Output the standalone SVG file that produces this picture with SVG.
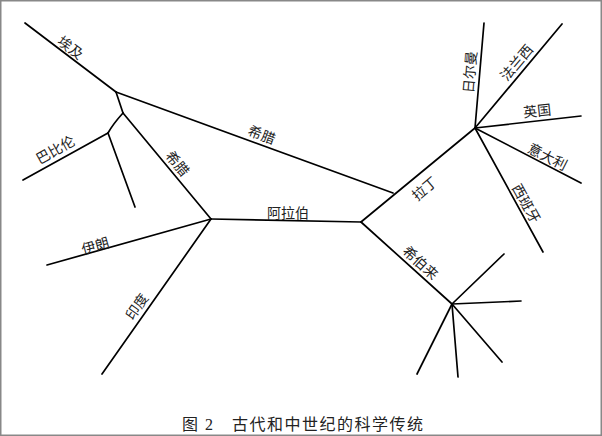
<svg xmlns="http://www.w3.org/2000/svg" width="602" height="436" viewBox="0 0 602 436">
<style>
.e{fill:none;stroke:#000;stroke-width:1.7;stroke-linecap:round;stroke-linejoin:round}
.l{font-family:"Noto Sans CJK SC",sans-serif;font-size:14px;fill:#222;text-anchor:middle;dominant-baseline:central}
.c{font-family:"Liberation Serif","Noto Sans CJK SC",serif;font-size:16px;fill:#222;letter-spacing:1.5px}
</style>
<rect x="0" y="0" width="602" height="436" fill="#fff"/>
<rect x="0.75" y="0.75" width="600.5" height="434.5" fill="none" stroke="#888" stroke-width="1.5"/>
<g id="connectors">
<path class="e" d="M25,23 L116,92"/>
<path class="e" d="M116,92 L393,193"/>
<path class="e" d="M116,92 L123,113"/>
<path class="e" d="M123,113 Q113,124 108,133"/>
<path class="e" d="M108,133 L23,180"/>
<path class="e" d="M108,133 L135,207"/>
<path class="e" d="M123,113 L211,219"/>
<path class="e" d="M211,219 L47,265"/>
<path class="e" d="M211,219 L102,374"/>
<path class="e" d="M211,219 L361,222"/>
<path class="e" d="M361,222 L475,128"/>
<path class="e" d="M361,222 L452,304"/>
<path class="e" d="M475,128 L484,23"/>
<path class="e" d="M475,128 L562,24"/>
<path class="e" d="M475,128 L581,116"/>
<path class="e" d="M475,128 L581,183"/>
<path class="e" d="M475,128 L543,252"/>
<path class="e" d="M452,304 L504,254"/>
<path class="e" d="M452,304 L521,301"/>
<path class="e" d="M452,304 L502,362"/>
<path class="e" d="M452,304 L458,377"/>
<path class="e" d="M452,304 L417,374"/>
</g>
<g id="egypt"><text class="l" transform="translate(71,47) rotate(37)">埃及</text></g>
<g id="greece1"><text class="l" transform="translate(262,134) rotate(20)">希腊</text></g>
<g id="babylon"><text class="l" transform="translate(55,149) rotate(-29)">巴比伦</text></g>
<g id="greece2"><text class="l" transform="translate(178,163) rotate(50)">希腊</text></g>
<g id="arabic"><text class="l" transform="translate(288,212)">阿拉伯</text></g>
<g id="iran"><text class="l" transform="translate(95,245) rotate(-16)">伊朗</text></g>
<g id="india"><text class="l" transform="translate(136,306) rotate(-55)">印度</text></g>
<g id="latin"><text class="l" transform="translate(424,188) rotate(-40)">拉丁</text></g>
<g id="germany"><text class="l" transform="translate(469,72) rotate(-85)">日尔曼</text></g>
<g id="france"><text class="l" transform="translate(516,62) rotate(-50)">法兰西</text></g>
<g id="england"><text class="l" transform="translate(537,110) rotate(-6)">英国</text></g>
<g id="italy"><text class="l" transform="translate(548,156) rotate(27)">意大利</text></g>
<g id="spain"><text class="l" transform="translate(527,203) rotate(61)">西班牙</text></g>
<g id="hebrew"><text class="l" transform="translate(421,262) rotate(42)">希伯来</text></g>
<text class="c" x="182" y="430">图 2　古代和中世纪的科学传统</text>
</svg>
